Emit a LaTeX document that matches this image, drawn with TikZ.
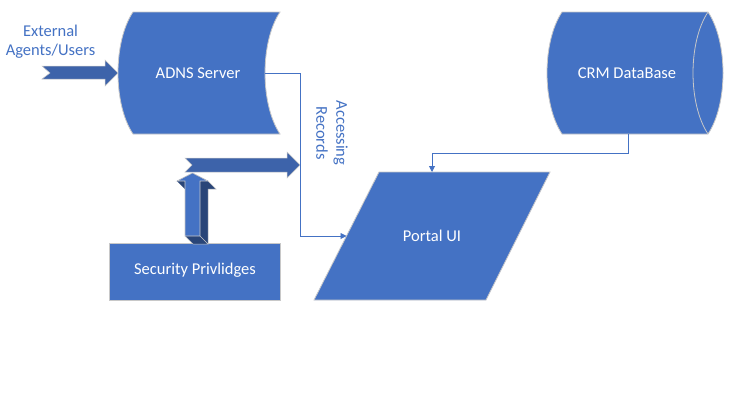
\documentclass[tikz,border=0pt]{standalone}
\usepackage{fontspec}
\setmainfont{Carlito}
\usetikzlibrary{arrows.meta}
\definecolor{shapeblue}{RGB}{68,114,196}
\definecolor{arrowblue}{RGB}{61,99,170}
\definecolor{darkside}{RGB}{41,69,120}
\definecolor{edgegray}{RGB}{200,200,200}
\tikzset{
  shapebox/.style={fill=shapeblue, draw=edgegray, line width=0.8pt},
  lbl/.style={text=white, font=\fontsize{16.5}{20}\selectfont, inner sep=0pt},
  bluelbl/.style={text=shapeblue, font=\fontsize{16.5}{19.5}\selectfont, inner sep=0pt, align=center},
  conn/.style={draw=shapeblue, line width=0.9pt, -{Triangle[length=6pt,width=6pt]}},
  fatarrow/.style={fill=arrowblue, draw=edgegray, line width=0.5pt},
}
\begin{document}
\begin{tikzpicture}[x=1pt,y=-1pt]
\useasboundingbox[fill=white] (0,0) rectangle (751,407);

% ADNS Server (stored data)
\draw[shapebox] (133,12) -- (280,12) .. controls (260,42) and (260,104) .. (280,134)
  -- (133,134) .. controls (113,104) and (113,42) .. (133,12) -- cycle;
\node[lbl] (adns) at (198,73) {ADNS Server};
\coordinate (adnsR) at (265,73);

% CRM DataBase (direct access storage)
\draw[shapebox] (562,12) -- (708,12) .. controls (728,42) and (728,104) .. (708,134)
  -- (562,134) .. controls (542,104) and (542,42) .. (562,12) -- cycle;
\draw[edgegray, line width=0.8pt] (708,12) .. controls (688,42) and (688,104) .. (708,134);
\node[lbl] (crm) at (627,73) {CRM DataBase};
\coordinate (crmB) at (628,134);

% Portal UI (parallelogram)
\draw[shapebox] (379,172) -- (550,172) -- (486,300) -- (314,300) -- cycle;
\node[lbl] (portal) at (432,236) {Portal UI};
\coordinate (portalL) at (346.5,236);
\coordinate (portalT) at (432,172);

% Security Privlidges
\draw[shapebox] (109,243) rectangle (280,300);
\node[lbl] (sec) at (195,270) {Security Privlidges};

% External label
\node[bluelbl] (ext) at (50.5,41.5) {External\\Agents/Users};

% Accessing Records label
\node[bluelbl, rotate=-90, font=\fontsize{16.5}{20}\selectfont] (acc) at (332,133) {Accessing\\Records};

% External notched arrow
\draw[fatarrow] (42,66) -- (105,66) -- (105,60) -- (118,73) -- (105,86) -- (105,79)
  -- (42,79) -- (50,73) -- cycle;
\coordinate (extArrow) at (80,73);

% Middle notched arrow
\draw[fatarrow] (185,158) -- (287,158) -- (287,152) -- (300,165) -- (287,178) -- (287,172)
  -- (185,172) -- (192,165) -- cycle;
\coordinate (midArrow) at (240,165);

% 3D up arrow
\fill[darkside] (192.5,173) -- (208,181) -- (216,189) -- (208,189) -- (208,244) -- (193,244)
  -- (185,236) -- (185,189) -- (177,181) -- cycle;
\draw[edgegray, line width=0.5pt] (200,236) -- (208,244) -- (193,244) -- (185,236);
\draw[edgegray, line width=0.5pt] (208,181) -- (216,189) -- (208,189) -- (208,244);
\draw[fill=shapeblue, draw=edgegray, line width=0.6pt] (192.5,173) -- (208,181) -- (200,181)
  -- (200,236) -- (185,236) -- (185,181) -- (177,181) -- cycle;
\coordinate (upArrow) at (192.5,205);

% Connectors
\draw[conn] (adnsR) -- (300,73) -- (300,236) -- (portalL);
\draw[conn] (crmB) -- (628,153) -- (432,153) -- (portalT);
\end{tikzpicture}
\end{document}
